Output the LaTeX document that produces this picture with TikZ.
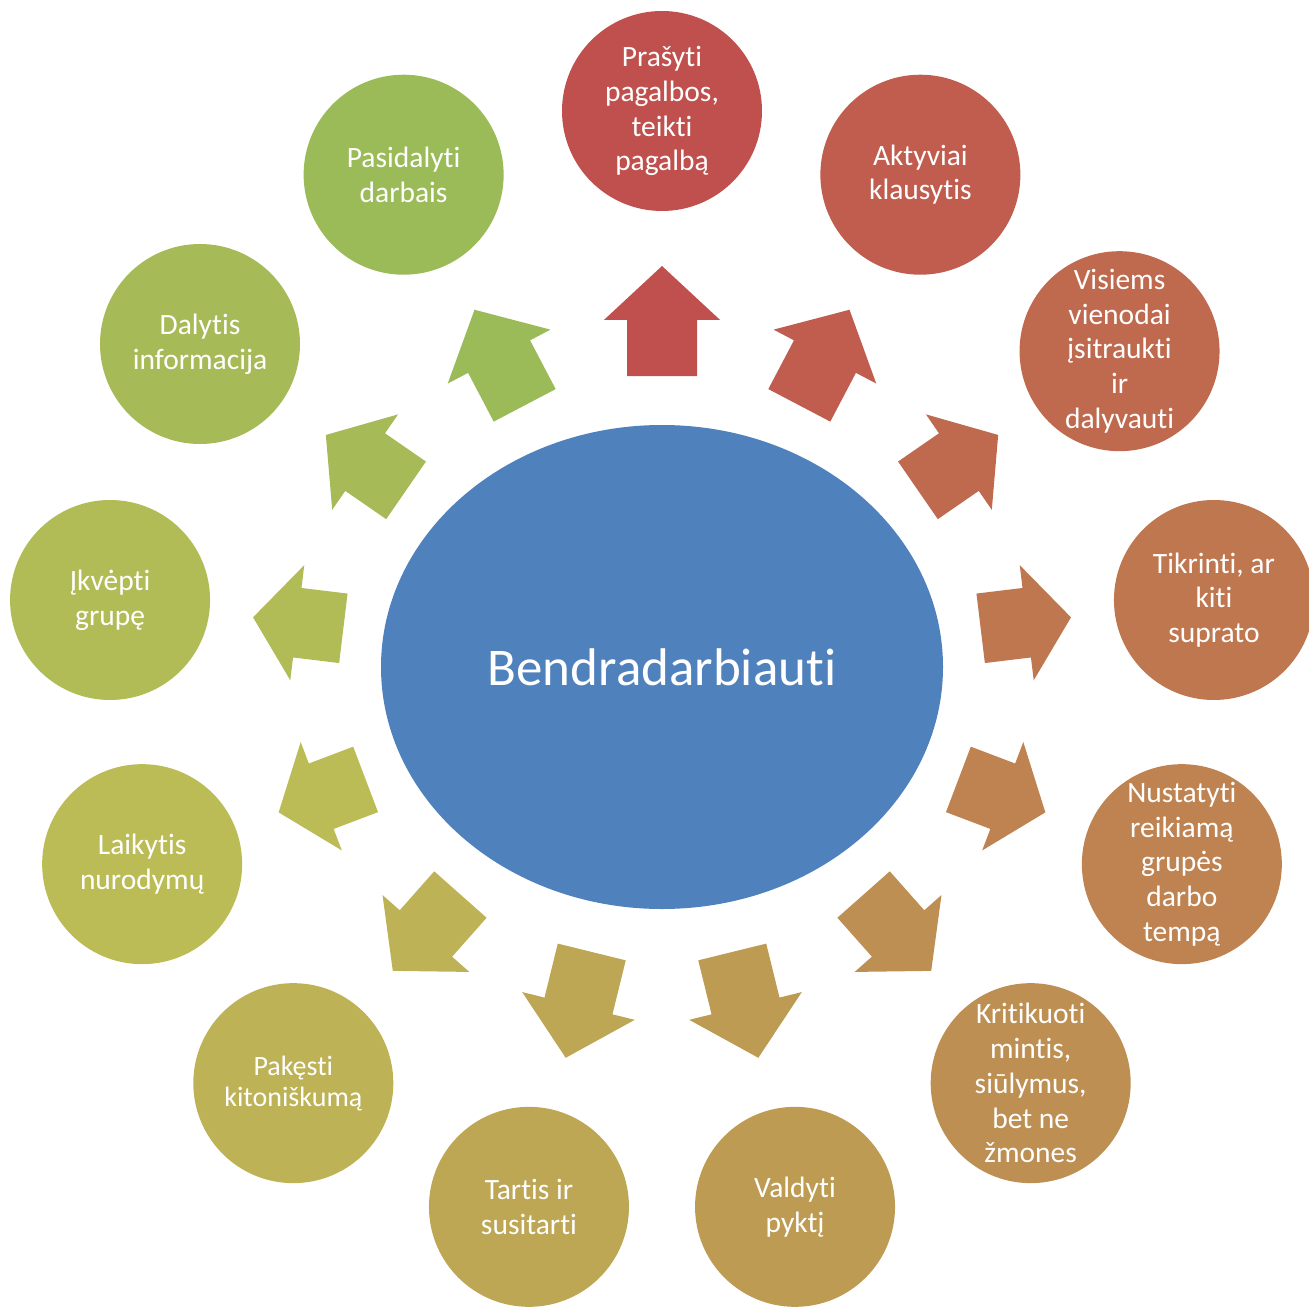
\documentclass[tikz,border=0pt]{standalone}
\usepackage{fontspec}
\setmainfont{Carlito}[Ligatures={NoCommon,NoContextual}]
\usetikzlibrary{shapes.geometric}
\definecolor{c0}{RGB}{192,80,77}
\definecolor{c1}{RGB}{192,93,78}
\definecolor{c2}{RGB}{191,106,79}
\definecolor{c3}{RGB}{191,119,80}
\definecolor{c4}{RGB}{190,131,81}
\definecolor{c5}{RGB}{190,143,82}
\definecolor{c6}{RGB}{189,155,83}
\definecolor{c7}{RGB}{189,166,84}
\definecolor{c8}{RGB}{189,178,85}
\definecolor{c9}{RGB}{188,188,86}
\definecolor{c10}{RGB}{177,188,87}
\definecolor{c11}{RGB}{166,187,88}
\definecolor{c12}{RGB}{155,187,89}
\definecolor{hub}{RGB}{79,129,189}
\tikzset{
  leaf/.style={circle, minimum size=200pt, inner sep=0pt, text=white, align=center,
    font=\fontsize{29.5}{34.8}\selectfont},
  hubnode/.style={ellipse, minimum width=562pt, minimum height=484pt, inner sep=0pt,
    fill=hub, text=white, font=\fontsize{53}{62}\selectfont}
}
\newcommand{\AP}[2]{({662+(#1)*sin(\t)+(#2)*cos(\t)},{667-(#1)*cos(\t)+(#2)*sin(\t)})}
\begin{document}
\begin{tikzpicture}[x=1pt,y=-1pt]
\useasboundingbox (0,0) rectangle (1309,1308);
\node[hubnode] (hub) at (662,667) {Bendradarbiauti};
% arrows
\foreach \k/\rt/\rh in {0/291/401, 1/295.5/403.5, 2/311/408.5, 3/321/412, 4/317/410, 5/304/406, 6/293.5/402.5,
  7/293.5/402.5, 8/304/406, 9/317/410, 10/321/412, 11/311/408.5, 12/295.5/403.5}{
  \pgfmathsetmacro\t{\k*360/13}
  \pgfmathsetmacro\rb{\rh-0.49*(\rh-\rt)}
  \fill[c\k] \AP{\rt}{-35} -- \AP{\rb}{-35} -- \AP{\rb}{-58} -- \AP{\rh}{0} -- \AP{\rb}{58} -- \AP{\rb}{35} -- \AP{\rt}{35} -- cycle;
}
% circles
\foreach \k/\txt in {0/{Prašyti\\pagalbos,\\teikti\\pagalbą}, 1/{Aktyviai\\klausytis},
  2/{Visiems\\vienodai\\įsitraukti\\ir\\dalyvauti}, 3/{Tikrinti, ar\\kiti\\suprato},
  4/{Nustatyti\\reikiamą\\grupės\\darbo\\tempą}, 5/{Kritikuoti\\mintis,\\siūlymus,\\bet ne\\žmones},
  6/{Valdyti\\pyktį}, 7/{Tartis ir\\susitarti}, 9/{Laikytis\\nurodymų},
  10/{Įkvėpti\\grupę}, 12/{Pasidalyti\\darbais}}{
  \pgfmathsetmacro\t{\k*360/13}
  \node[leaf, fill=c\k] (n\k) at \AP{556}{0} {\txt};
}
\node[leaf, fill=c11] (n11) at (200,344) {Dalytis\\informacija};
\pgfmathsetmacro\t{8*360/13}
\node[leaf, fill=c8, font=\fontsize{28}{31}\selectfont] (n8) at \AP{556}{0} {Pakęsti\\kitoniškumą};
\end{tikzpicture}
\end{document}
